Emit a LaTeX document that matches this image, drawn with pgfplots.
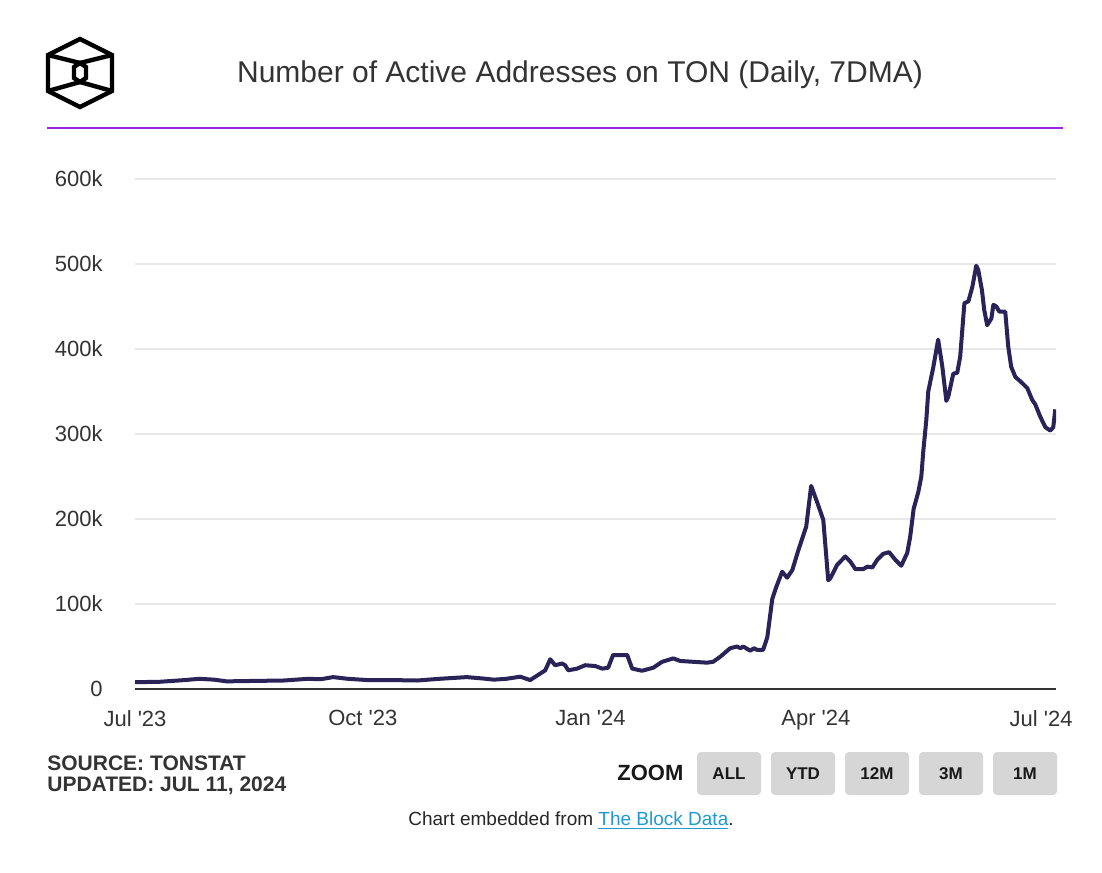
\documentclass[border=0pt]{standalone}
\usepackage{fontspec}
\setmainfont{Liberation Sans}
\newfontfamily\tickfont{Liberation Sans}[Ligatures=ResetAll]
\usepackage{pgfplots}
\pgfplotsset{compat=1.18}
\definecolor{txt}{HTML}{333333}
\definecolor{navy}{HTML}{2A2358}
\definecolor{rule}{HTML}{9B25DF}
\definecolor{btn}{HTML}{D6D6D6}
\definecolor{link}{HTML}{1E9AD0}
\begin{document}
\begin{tikzpicture}
% background
\begin{scope}[x=0.5pt,y=-0.5pt]
\fill[white] (0,0) rectangle (1102,872);
\end{scope}

\begin{axis}[
  at={(67.5pt,-344.5pt)}, anchor=south west,
  width=460.5pt, height=255pt, scale only axis,
  xmin=0, xmax=372, ymin=0, ymax=600,
  axis x line*=bottom, axis y line*=left,
  x axis line style={draw=txt, line width=1pt},
  y axis line style={draw=none},
  xtick={0,92,184,275,366},
  xticklabels={Jul '23, Oct '23, Jan '24, Apr '24, Jul '24},
  ytick={0,100,...,600},
  yticklabels={0,100k,200k,300k,400k,500k,600k},
  ymajorgrids, grid style={draw=black!9, line width=0.7pt},
  major tick length=0pt,
  tick label style={font=\tickfont\fontsize{11}{13}\selectfont, text=txt},
  yticklabel style={anchor=east, inner sep=0pt, xshift=-16pt},
  xticklabel style={anchor=north, inner sep=0pt, yshift=-10.5pt},
]
\addplot[color=navy, line width=2pt, line join=round, mark=none] coordinates {
(0,8) (10,8.5) (20,10.5) (26,12) (32,11) (37,9) (48,9.5) (60,10) (70,12) (75,11.5)
(80,14) (86,12) (94,10.5) (104,10.5) (114,10) (123,12) (134,14) (140,12.5) (145,11)
(150,12) (155.6,14.5) (159.6,10.5) (163.6,18) (165.7,22) (167.7,35) (169.7,28)
(172.5,30) (173.7,28) (175,22) (178.6,24) (181.8,28) (185.9,27) (188.7,24) (191.1,25)
(193.1,40) (198.8,40) (200.8,24) (204.8,21.5) (209.3,25) (212.9,32) (217.4,36)
(220.2,33) (225.5,32) (231.1,31) (233.5,32) (236.4,38) (240.4,48) (243.2,50)
(244.5,48) (245.7,50) (248.5,45) (250,48) (251.3,46) (253.7,46) (255.4,61)
(257.4,106) (259,120) (261.4,138) (263.4,131) (265.5,140) (267.9,163) (271.1,191)
(273.1,239) (275.5,220) (278,199) (280,128) (280.8,130) (283.6,146) (286.9,156)
(288.9,150) (291,141) (294.1,141) (295.8,144) (297.8,143) (299.8,152) (302.2,159)
(304.6,161) (307.1,152) (309.5,145) (311.9,160) (313.1,179) (314.5,212) (316.4,232)
(317.6,250) (318.4,280) (319.6,316) (320.4,350) (322.4,378) (324.4,411) (326.1,379)
(327.7,339) (328.5,344) (330.5,371) (332.1,372) (333.3,391) (335,454) (336.6,456)
(338.2,473) (339.8,498) (340.6,493) (342.1,469) (343,446) (344.2,428) (345.9,436)
(346.7,452) (347.9,450) (349.1,444) (351.5,444) (352.7,403) (353.9,379) (355.6,367)
(357.6,362) (360.4,354) (362.4,340) (363.6,335) (365.7,320) (367.7,308) (369.7,304)
(370.9,308) (371.7,329)
};
\end{axis}

\begin{scope}[x=0.5pt,y=-0.5pt]
% logo
\begin{scope}[line width=2.2pt, line join=miter, black]
\draw (80,39) -- (112,55) -- (112,91) -- (80,107) -- (48,91) -- (48,55) -- cycle;
\draw (48,55) -- (80,63) -- (112,55);
\draw (80,63) -- (86,67) -- (86,78) -- (80,82) -- (74,78) -- (74,67) -- cycle;
\draw (48,91) -- (80,82) -- (112,91);
\end{scope}
% title
\node[text=txt, font=\fontsize{15}{18}\selectfont] at (580,75) {Number of Active Addresses on TON (Daily, 7DMA)};
\draw[rule, line width=1.2pt] (47,128) -- (1063,128);
% source
\node[anchor=base west, inner sep=0pt, text=txt, font=\fontsize{10.5}{12}\selectfont\bfseries] at (47,770) {SOURCE: TONSTAT};
\node[anchor=base west, inner sep=0pt, text=txt, font=\fontsize{10.5}{12}\selectfont\bfseries] at (47,791) {UPDATED: JUL 11, 2024};
% zoom buttons
\node[anchor=base west, inner sep=0pt, text=black!90, font=\fontsize{11}{13}\selectfont\bfseries] at (617,780) {ZOOM};
\foreach \xa/\lab in {697/ALL, 771/YTD, 845/12M, 919/3M, 993/1M} {
  \fill[btn, rounded corners=2pt] (\xa,752) rectangle (\xa+64,795);
  \node[text=black!90, font=\fontsize{8.5}{10}\selectfont\bfseries] at (\xa+32,774) {\lab};
}
% footer
\node[text=black!85, font=\fontsize{9.5}{11}\selectfont] at (571,821) {Chart embedded from \textcolor{link}{\underline{The Block Data}}.};
\end{scope}
\pgfresetboundingbox
\path[use as bounding box] (0,0) rectangle (551pt,-436pt);
\end{tikzpicture}
\end{document}
